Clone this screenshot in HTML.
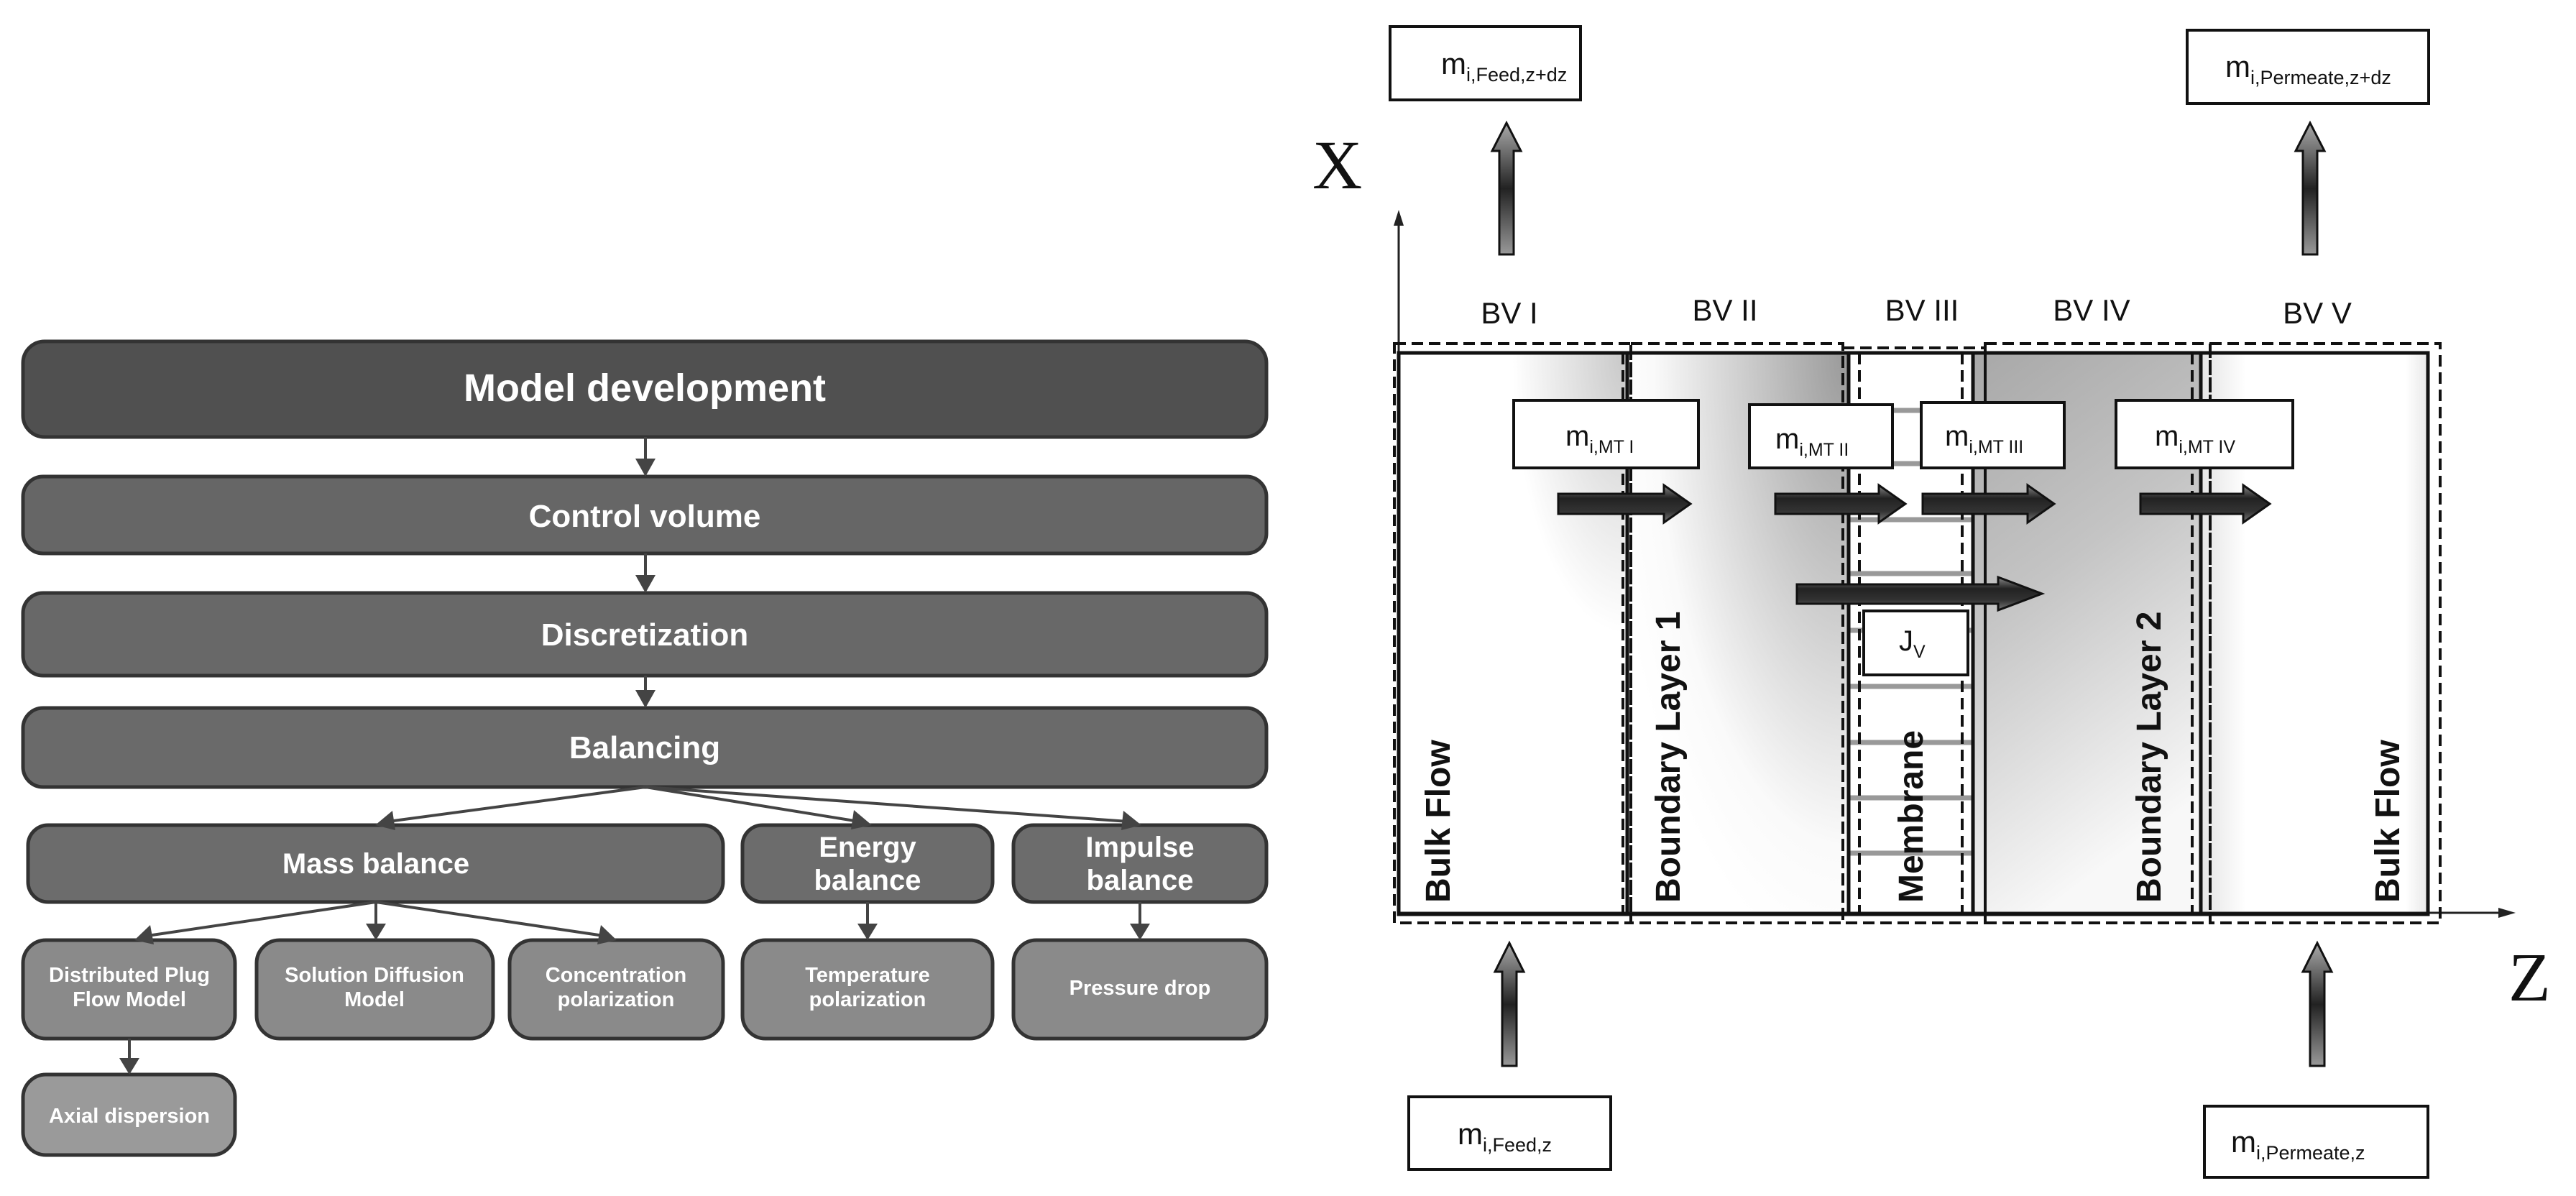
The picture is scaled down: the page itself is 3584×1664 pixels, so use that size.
<!DOCTYPE html>
<html><head><meta charset="utf-8"><style>
html,body{margin:0;padding:0;background:#fff;width:3584px;height:1664px;overflow:hidden}
svg{display:block}
</style></head><body>
<svg width="3584" height="1664" viewBox="0 0 3584 1664" xmlns="http://www.w3.org/2000/svg" font-family="Liberation Sans, Arial, sans-serif">
<defs>
<linearGradient id="ha" x1="0" y1="0" x2="0" y2="1">
<stop offset="0" stop-color="#888"/><stop offset="0.35" stop-color="#222"/><stop offset="0.7" stop-color="#333"/><stop offset="1" stop-color="#777"/>
</linearGradient>
<linearGradient id="vaV" x1="0" y1="0" x2="0" y2="1">
<stop offset="0" stop-color="#aaa"/><stop offset="0.5" stop-color="#222"/><stop offset="1" stop-color="#999"/>
</linearGradient>
<radialGradient id="g2" cx="1" cy="0" r="1.1" gradientTransform="scale(1,1)">
<stop offset="0" stop-color="#999"/><stop offset="0.45" stop-color="#d0d0d0"/><stop offset="0.8" stop-color="#fafafa"/><stop offset="1" stop-color="#fff"/>
</radialGradient>
<radialGradient id="g1" cx="1" cy="0" r="0.5">
<stop offset="0" stop-color="#c8c8c8"/><stop offset="1" stop-color="#fff"/>
</radialGradient>
<linearGradient id="g4" x1="0" y1="0" x2="0.3" y2="1">
<stop offset="0" stop-color="#a8a8a8"/><stop offset="0.45" stop-color="#c4c4c4"/><stop offset="1" stop-color="#f8f8f8"/>
</linearGradient>
<linearGradient id="g5" x1="0" y1="0" x2="1" y2="0">
<stop offset="0" stop-color="#e4e4e4"/><stop offset="0.2" stop-color="#fff"/><stop offset="0.9" stop-color="#fff"/><stop offset="1" stop-color="#e8e8e8"/>
</linearGradient>
</defs>

<!-- LEFT FLOWCHART -->
<g stroke="#333" stroke-width="5">
<rect x="32" y="475" width="1730" height="133" rx="30" fill="#505050"/>
<rect x="32" y="663" width="1730" height="107" rx="28" fill="#666"/>
<rect x="32" y="825" width="1730" height="115" rx="28" fill="#686868"/>
<rect x="32" y="985" width="1730" height="110" rx="28" fill="#6a6a6a"/>
<rect x="39" y="1148" width="967" height="107" rx="28" fill="#6c6c6c"/>
<rect x="1033" y="1148" width="348" height="107" rx="28" fill="#6c6c6c"/>
<rect x="1410" y="1148" width="352" height="107" rx="28" fill="#6c6c6c"/>
<rect x="32" y="1308" width="295" height="137" rx="32" fill="#8a8a8a"/>
<rect x="357" y="1308" width="329" height="137" rx="32" fill="#8a8a8a"/>
<rect x="709" y="1308" width="297" height="137" rx="32" fill="#8a8a8a"/>
<rect x="1033" y="1308" width="348" height="137" rx="32" fill="#8a8a8a"/>
<rect x="1410" y="1308" width="352" height="137" rx="32" fill="#8a8a8a"/>
<rect x="32" y="1495" width="295" height="112" rx="32" fill="#9a9a9a"/>
</g>
<g fill="#fff" font-weight="bold" text-anchor="middle">
<text x="897" y="558" font-size="54">Model development</text>
<text x="897" y="733" font-size="44">Control volume</text>
<text x="897" y="898" font-size="44">Discretization</text>
<text x="897" y="1055" font-size="44">Balancing</text>
<text x="523" y="1215" font-size="40">Mass balance</text>
<text x="1207" y="1192" font-size="40">Energy</text>
<text x="1207" y="1238" font-size="40">balance</text>
<text x="1586" y="1192" font-size="40">Impulse</text>
<text x="1586" y="1238" font-size="40">balance</text>
<g font-size="29">
<text x="180" y="1366">Distributed Plug</text><text x="180" y="1400">Flow Model</text>
<text x="521" y="1366">Solution Diffusion</text><text x="521" y="1400">Model</text>
<text x="857" y="1366">Concentration</text><text x="857" y="1400">polarization</text>
<text x="1207" y="1366">Temperature</text><text x="1207" y="1400">polarization</text>
<text x="1586" y="1384">Pressure drop</text>
<text x="180" y="1562">Axial dispersion</text>
</g>
</g>
<g stroke="#444" stroke-width="4" fill="#444">
<line x1="898" y1="608" x2="898" y2="645"/><polygon points="884,638 912,638 898,663" stroke="none"/>
<line x1="898" y1="770" x2="898" y2="808"/><polygon points="884,800 912,800 898,825" stroke="none"/>
<line x1="898" y1="940" x2="898" y2="968"/><polygon points="884,960 912,960 898,985" stroke="none"/>
<line x1="898" y1="1095" x2="540" y2="1143"/><polygon points="522,1148 546,1128 550,1155" stroke="none"/>
<line x1="898" y1="1095" x2="1195" y2="1143"/><polygon points="1213,1148 1188,1127 1184,1154" stroke="none"/>
<line x1="898" y1="1095" x2="1570" y2="1143"/><polygon points="1588,1148 1563,1128 1560,1155" stroke="none"/>
<line x1="523" y1="1255" x2="205" y2="1302"/><polygon points="187,1308 209,1287 214,1314" stroke="none"/>
<line x1="523" y1="1255" x2="523" y2="1292"/><polygon points="509,1285 537,1285 523,1308" stroke="none"/>
<line x1="523" y1="1255" x2="840" y2="1302"/><polygon points="858,1308 836,1287 831,1314" stroke="none"/>
<line x1="1207" y1="1255" x2="1207" y2="1292"/><polygon points="1193,1285 1221,1285 1207,1308" stroke="none"/>
<line x1="1586" y1="1255" x2="1586" y2="1292"/><polygon points="1572,1285 1600,1285 1586,1308" stroke="none"/>
<line x1="180" y1="1445" x2="180" y2="1479"/><polygon points="166,1472 194,1472 180,1495" stroke="none"/>
</g>

<!-- RIGHT DIAGRAM -->
<rect x="1946" y="491" width="317" height="781" fill="url(#g1)"/>
<rect x="2263" y="491" width="309" height="781" fill="url(#g2)"/>
<rect x="2745" y="491" width="317" height="781" fill="url(#g4)"/>
<rect x="3062" y="491" width="316" height="781" fill="url(#g5)"/>

<g stroke="#999" stroke-width="7">
<line x1="2572" y1="571" x2="2745" y2="571"/><line x1="2572" y1="645" x2="2745" y2="645"/>
<line x1="2572" y1="723" x2="2745" y2="723"/><line x1="2572" y1="798" x2="2745" y2="798"/>
<line x1="2572" y1="877" x2="2745" y2="877"/><line x1="2572" y1="955" x2="2745" y2="955"/>
<line x1="2572" y1="1033" x2="2745" y2="1033"/><line x1="2572" y1="1110" x2="2745" y2="1110"/>
<line x1="2572" y1="1187" x2="2745" y2="1187"/>
</g>

<g stroke="#222" stroke-width="3" fill="#222">
<line x1="1946" y1="1272" x2="1946" y2="310"/><polygon points="1939,314 1953,314 1946,292" stroke="none"/>
<line x1="1946" y1="1270" x2="3480" y2="1270"/><polygon points="3476,1263 3476,1277 3500,1270" stroke="none"/>
</g>

<g fill="none" stroke="#111" stroke-width="4" stroke-dasharray="16,8">
<rect x="1940" y="478" width="329" height="806"/>
<rect x="2269" y="478" width="295" height="806"/>
<rect x="2564" y="484" width="198" height="800"/>
<rect x="2762" y="478" width="313" height="806"/>
<rect x="3075" y="478" width="320" height="806"/>
<line x1="2587" y1="491" x2="2587" y2="1272"/>
<line x1="2730" y1="491" x2="2730" y2="1272"/>
<line x1="3050" y1="491" x2="3050" y2="1272"/>
<line x1="2258" y1="491" x2="2258" y2="1272"/>
</g>
<g fill="none" stroke="#111" stroke-width="5">
<rect x="1946" y="491" width="1432" height="781"/>
<line x1="2264" y1="491" x2="2264" y2="1272"/>
<line x1="2572" y1="491" x2="2572" y2="1272"/>
<line x1="2745" y1="491" x2="2745" y2="1272"/>
<line x1="3062" y1="491" x2="3062" y2="1272"/>
</g>

<g font-size="42" fill="#111" text-anchor="middle">
<text x="2100" y="450">BV I</text>
<text x="2400" y="446">BV II</text>
<text x="2674" y="446">BV III</text>
<text x="2910" y="446">BV IV</text>
<text x="3224" y="450">BV V</text>
</g>

<g font-size="48" font-weight="bold" fill="#111">
<text transform="translate(2017,1256) rotate(-90)">Bulk Flow</text>
<text transform="translate(2337,1256) rotate(-90)">Boundary Layer 1</text>
<text transform="translate(2675,1256) rotate(-90)">Membrane</text>
<text transform="translate(3006,1256) rotate(-90)">Boundary Layer 2</text>
<text transform="translate(3338,1256) rotate(-90)">Bulk Flow</text>
</g>

<g fill="#fff" stroke="#111" stroke-width="4">
<rect x="2106" y="557" width="257" height="94"/>
<rect x="2434" y="563" width="199" height="88"/>
<rect x="2673" y="560" width="199" height="91"/>
<rect x="2944" y="557" width="246" height="94"/>
<rect x="2593" y="850" width="145" height="89"/>
</g>
<g font-size="40" fill="#111">
<text x="2178" y="620">m<tspan font-size="25" dy="10">i,MT I</tspan></text>
<text x="2470" y="624">m<tspan font-size="25" dy="10">i,MT II</tspan></text>
<text x="2706" y="620">m<tspan font-size="25" dy="10">i,MT III</tspan></text>
<text x="2998" y="620">m<tspan font-size="25" dy="10">i,MT IV</tspan></text>
<text x="2642" y="905">J<tspan font-size="25" dy="10">V</tspan></text>
</g>

<g stroke="#111" stroke-width="3" fill="url(#ha)">
<polygon points="2168,687 2315,687 2315,675 2352,701 2315,727 2315,715 2168,715"/>
<polygon points="2470,687 2614,687 2614,675 2651,701 2614,727 2614,715 2470,715"/>
<polygon points="2675,687 2821,687 2821,675 2858,701 2821,727 2821,715 2675,715"/>
<polygon points="2978,687 3121,687 3121,675 3158,701 3121,727 3121,715 2978,715"/>
<polygon points="2500,813 2780,813 2780,803 2841,826 2780,849 2780,840 2500,840"/>
</g>

<g stroke="#111" stroke-width="3" fill="url(#vaV)">
<polygon points="2086,354 2086,210 2076,210 2096,171 2116,210 2106,210 2106,354"/>
<polygon points="3204,354 3204,210 3194,210 3214,171 3234,210 3224,210 3224,354"/>
<polygon points="2090,1483 2090,1352 2080,1352 2100,1312 2120,1352 2110,1352 2110,1483"/>
<polygon points="3214,1483 3214,1352 3204,1352 3224,1312 3244,1352 3234,1352 3234,1483"/>
</g>

<g fill="#fff" stroke="#111" stroke-width="4">
<rect x="1934" y="37" width="265" height="102"/>
<rect x="3043" y="42" width="336" height="102"/>
<rect x="1960" y="1526" width="281" height="101"/>
<rect x="3067" y="1539" width="311" height="99"/>
</g>
<g font-size="42" fill="#111">
<text x="2005" y="103">m<tspan font-size="27" dy="10">i,Feed,z+dz</tspan></text>
<text x="3096" y="107">m<tspan font-size="27" dy="10">i,Permeate,z+dz</tspan></text>
<text x="2028" y="1592">m<tspan font-size="27" dy="10">i,Feed,z</tspan></text>
<text x="3104" y="1603">m<tspan font-size="27" dy="10">i,Permeate,z</tspan></text>
</g>

<g font-family="Liberation Serif, serif" font-size="96" fill="#111">
<text x="1826" y="262">X</text>
<text x="3490" y="1392">Z</text>
</g>
</svg>
</body></html>
